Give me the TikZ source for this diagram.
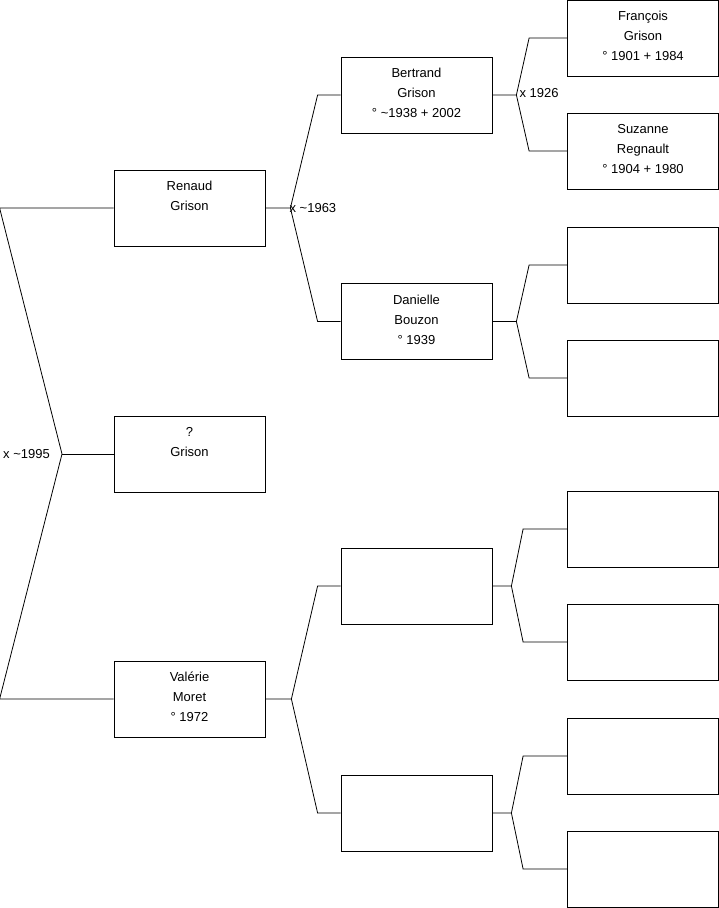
\documentclass[tikz,border=0pt]{standalone}
\usepackage{fontspec}
\setmainfont{Liberation Sans}
\usetikzlibrary{positioning,calc}

\tikzset{
  person/.style={draw, line width=0.8pt, minimum width=151pt, minimum height=76pt,
    inner sep=0pt, font=\fontsize{13}{20}\selectfont},
  link/.style={line width=0.8pt},
  union/.style={inner sep=0pt, font=\fontsize{13}{15}\selectfont},
}
\newcommand{\who}[1]{\parbox[t][76pt][t]{151pt}{\centering\rule{0pt}{20.5pt}#1}}

\begin{document}
\begin{tikzpicture}[x=1pt, y=-1pt]
  \useasboundingbox (0,0) rectangle (719,908);

  % generation 1
  \node[person] (child) at (189.5,454) {\who{?\\Grison}};
  \node[person] (renaud) at (189.5,208) {\who{Renaud\\Grison}};
  \node[person] (valerie) at (189.5,699) {\who{Valérie\\Moret\\° 1972}};

  % generation 2
  \node[person] (bertrand) at (416.5,95) {\who{Bertrand\\Grison\\° \textasciitilde1938 + 2002}};
  \node[person] (danielle) at (416.5,321.5) {\who{Danielle\\Bouzon\\° 1939}};
  \node[person] (valfather) at (416.5,586) {};
  \node[person] (valmother) at (416.5,813) {};

  % generation 3
  \node[person] (francois) at (643,38) {\who{François\\Grison\\° 1901 + 1984}};
  \node[person] (suzanne) at (643,151) {\who{Suzanne\\Regnault\\° 1904 + 1980}};
  \node[person] (danfather) at (643,265) {};
  \node[person] (danmother) at (643,378) {};
  \node[person] (vffather) at (643,529) {};
  \node[person] (vfmother) at (643,642) {};
  \node[person] (vmfather) at (643,756) {};
  \node[person] (vmmother) at (643,869) {};

  % root couple
  \coordinate (root-j) at (62,454);
  \coordinate (renaud-end) at ([xshift=-114pt]renaud.west);
  \coordinate (valerie-end) at ([xshift=-114pt]valerie.west);
  \draw[link] (renaud.west) -- (renaud-end) -- (root-j) -- (valerie-end) -- (valerie.west);
  \draw[link] (root-j) -- (child.west);

  % parents of each person
  \foreach \kid/\dad/\mum/\js/\kink in {renaud/bertrand/danielle/25/23,
      valerie/valfather/valmother/26/23,
      bertrand/francois/suzanne/24/38,
      danielle/danfather/danmother/24/38,
      valfather/vffather/vfmother/19/44,
      valmother/vmfather/vmmother/19/44}{
    \coordinate (\kid-j) at ([xshift=\js*1pt]\kid.east);
    \draw[link] (\kid.east) -- (\kid-j) -- ([xshift=-\kink*1pt]\dad.west) -- (\dad.west);
    \draw[link] (\kid-j) -- ([xshift=-\kink*1pt]\mum.west) -- (\mum.west);
  }

  % marriages
  \node[union, anchor=east] (u1995) at ([xshift=-12pt]root-j) {x \textasciitilde1995};
  \node[union, anchor=west] (u1963) at ([xshift=-1pt]renaud-j) {x \textasciitilde1963};
  \node[union, anchor=west, yshift=2pt] (u1926) at ([xshift=3pt]bertrand-j) {x 1926};
\end{tikzpicture}
\end{document}
